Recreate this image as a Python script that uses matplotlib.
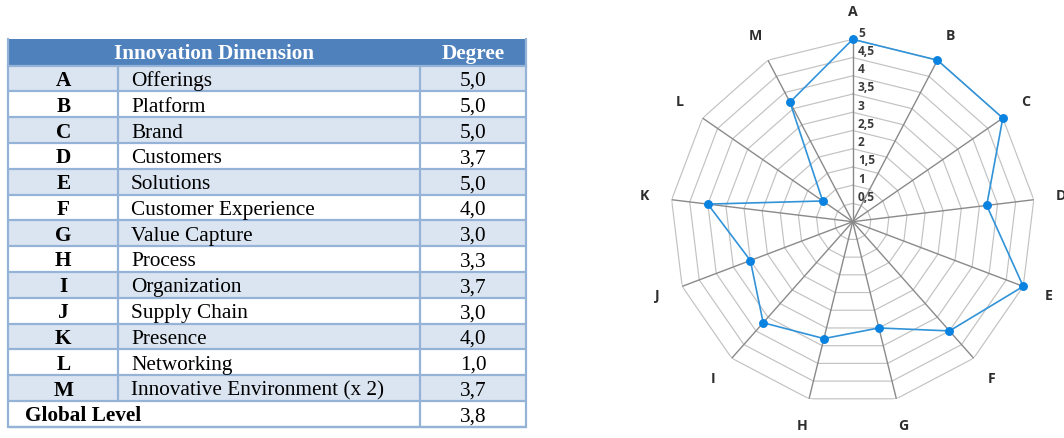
import numpy as np
import matplotlib
matplotlib.use("Agg")
import matplotlib.pyplot as plt
from matplotlib.patches import Rectangle

# ---- data ----
letters = ["A", "B", "C", "D", "E", "F", "G", "H", "I", "J", "K", "L", "M"]
dimensions = ["Offerings", "Platform", "Brand", "Customers", "Solutions",
              "Customer Experience", "Value Capture", "Process", "Organization",
              "Supply Chain", "Presence", "Networking", "Innovative Environment (x 2)"]
degrees = [5.0, 5.0, 5.0, 3.7, 5.0, 4.0, 3.0, 3.3, 3.7, 3.0, 4.0, 1.0, 3.7]
global_level = 3.8
levels = [0.5, 1, 1.5, 2, 2.5, 3, 3.5, 4, 4.5, 5]

W, H = 1064, 438
fig = plt.figure(figsize=(W / 100, H / 100), dpi=100)
fig.patch.set_facecolor("white")


def comma(v, fmt):
    return format(v, fmt).replace(".", ",")


# ---- table (pixel coordinates) ----
tab = fig.add_axes([0, 0, 1, 1])
tab.set_xlim(0, W)
tab.set_ylim(H, 0)
tab.axis("off")

x0, x1, x2, x3 = 8.3, 118.3, 420.0, 526.0
head_top, head_bot = 38.5, 65.6
row_h = 25.8
header_blue = "#4F81BD"
band = "#DBE5F1"
edge = "#95B3D7"
serif = ["Liberation Serif", "DejaVu Serif"]
fs = 15.3

tab.add_patch(Rectangle((x0, head_top), x3 - x0, head_bot - head_top,
                        facecolor=header_blue, edgecolor="none"))
tab.text((x0 + x2) / 2, head_bot - 6.8, "Innovation Dimension", ha="center",
         va="baseline", color="white", fontweight="bold", family=serif, fontsize=fs)
tab.text((x2 + x3) / 2, head_bot - 6.8, "Degree", ha="center", va="baseline",
         color="white", fontweight="bold", family=serif, fontsize=fs)

n = len(letters)
for i in range(n + 1):
    top = head_bot + i * row_h
    bot = top + row_h
    fc = band if (i < n and i % 2 == 0) else "white"
    tab.add_patch(Rectangle((x0, top), x3 - x0, row_h, facecolor=fc, edgecolor="none"))
    base = bot - 5.5
    if i < n:
        tab.text((x0 + x1) / 2, base, letters[i], ha="center", va="baseline",
                 fontweight="bold", family=serif, fontsize=fs, color="black")
        tab.text(131, base, dimensions[i], ha="left", va="baseline",
                 family=serif, fontsize=fs, color="black")
        tab.text((x2 + x3) / 2, base, comma(degrees[i], ".1f"), ha="center",
                 va="baseline", family=serif, fontsize=fs, color="black")
        tab.plot([x1, x1], [top, bot], color=edge, lw=1.6, solid_capstyle="butt")
    else:
        tab.text(25, base, "Global Level", ha="left", va="baseline",
                 fontweight="bold", family=serif, fontsize=fs, color="black")
        tab.text((x2 + x3) / 2, base, comma(global_level, ".1f"), ha="center",
                 va="baseline", family=serif, fontsize=fs, color="black")
    tab.plot([x0, x3], [bot, bot], color=edge, lw=1.6, solid_capstyle="butt")

table_bot = head_bot + (n + 1) * row_h
tab.plot([x2, x2], [head_bot, table_bot], color=edge, lw=1.6, solid_capstyle="butt")
tab.plot([x0, x0, x3, x3], [head_top, table_bot, table_bot, head_top],
         color=edge, lw=1.6, solid_joinstyle="miter")
tab.plot([x0, x3], [head_bot, head_bot], color=edge, lw=1.6)

# ---- radar chart ----
cx, cy, R = 852.7, 221.7, 182.4
ax = fig.add_axes([(cx - R) / W, (H - cy - R) / H, 2 * R / W, 2 * R / H],
                  projection="polar")
ax.set_theta_offset(np.pi / 2)
ax.set_theta_direction(-1)
ax.set_ylim(0, 5)
ax.axis("off")

theta = np.arange(n) * 2 * np.pi / n
theta_c = np.append(theta, theta[0])

for v in levels:
    ax.plot(theta_c, [v] * (n + 1), color="#c2c2c2", lw=0.85, zorder=1)
for t in theta:
    ax.plot([t, t], [0, 5], color="#8a8a8a", lw=1.0, zorder=2)

vals = np.append(degrees, degrees[0])
ax.plot(theta_c, vals, color="#3193d8", lw=1.2, zorder=4, clip_on=False)
ax.plot(theta, degrees, "o", color="#0a82e0", ms=5.4, mec="#0a82e0",
        zorder=5, clip_on=False)

sans = "Open Sans"
for v in levels:
    ax.annotate(comma(v, "g"), xy=(0, v), xytext=(3.8, 4.4), textcoords="offset points",
                ha="left", va="center", fontsize=8.6, family=sans,
                fontweight="bold", color="#3a3a3a", zorder=6)

for t, lab in zip(theta, letters):
    ax.text(t, 5.76, lab, ha="center", va="center", fontsize=10.2, family=sans,
            fontweight="bold", color="#2e2e2e", clip_on=False)

fig.savefig("out.png", dpi=100, facecolor="white")
